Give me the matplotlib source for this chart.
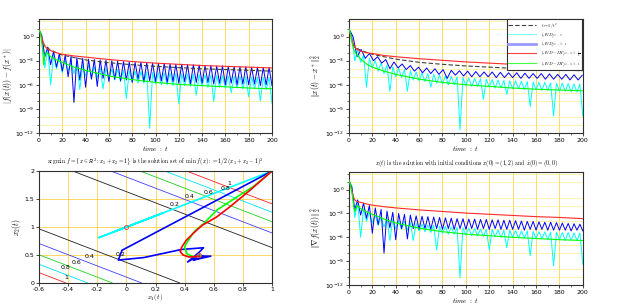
import numpy as np
import matplotlib
matplotlib.use('Agg')
import matplotlib.pyplot as plt
from matplotlib.ticker import FixedLocator, LogFormatterSciNotation, NullFormatter

plt.rcParams['mathtext.fontset'] = 'cm'
plt.rcParams['font.family'] = 'DejaVu Sans'

# ---- data (values are log10 for the time panels) ----
T_PEAK = np.arange(2.5, 200, 5)
T_TROUGH = np.arange(5, 201, 5)
T_PEAK_SLOW = np.arange(3.5, 200, 7)
T_TROUGH_SLOW = np.arange(7, 200, 7)

# top left : |f(x(t)) - f(x*)|
tl_blue_peaks = [0.0, -1.3, -1.8, -2.1, -2.3, -2.45, -2.6, -2.7, -2.8, -2.85,
                 -2.9, -2.95, -3.0, -3.05, -3.1, -3.15, -3.2, -3.2, -3.25, -3.3,
                 -3.35, -3.35, -3.4, -3.45, -3.45, -3.5, -3.5, -3.55, -3.6, -3.6,
                 -3.65, -3.65, -3.7, -3.7, -3.75, -3.75, -3.8, -3.8, -3.85, -3.85]
tl_blue_troughs = [-2.5, -3.5, -3.8, -4.3, -5.0, -8.2, -5.4, -6.3, -5.3, -6.2,
                   -5.2, -5.6, -5.3, -5.5, -5.4, -5.7, -5.3, -5.6, -5.5, -5.6,
                   -5.5, -5.7, -5.6, -5.8, -5.6, -5.9, -5.7, -5.8, -5.7, -5.9,
                   -5.8, -6.0, -5.8, -6.0, -5.9, -6.0, -5.9, -6.1, -6.0, -6.1]
tl_cyan_peaks = [0.3, -1.5, -2.2, -2.6, -2.9, -3.1, -3.3, -3.5, -3.6, -3.75,
                 -3.85, -3.95, -4.05, -4.1, -4.2, -4.25, -4.3, -4.35, -4.4, -4.45,
                 -4.5, -4.53, -4.56, -4.6, -4.63, -4.66, -4.7, -4.73, -4.76, -4.8,
                 -4.83, -4.86, -4.9, -4.93, -4.96, -5.0, -5.03, -5.06, -5.08, -5.1]
tl_cyan_troughs = [-3.9, -6.0, -4.0, -4.5, -4.3, -4.6, -6.6, -4.9, -5.0, -5.1,
                   -6.5, -5.3, -5.4, -5.6, -7.7, -5.6, -5.8, -5.8, -11.4, -5.9,
                   -6.0, -6.0, -6.1, -8.4, -6.1, -6.2, -7.3, -6.2, -6.3, -8.1,
                   -6.3, -6.4, -7.0, -6.4, -6.5, -7.5, -6.5, -8.0, -6.6, -8.3]
tl_red_t = [0, 1, 2, 3, 4, 5, 7, 10, 15, 20, 30, 40, 60, 80, 100, 120, 140, 160, 180, 200]
tl_red = [0.8, 0.6, 0.2, -0.4, -0.9, -1.2, -1.5, -1.75, -2.0, -2.2,
          -2.4, -2.55, -2.85, -3.1, -3.3, -3.45, -3.6, -3.7, -3.8, -3.9]
tl_green_t = [0, 1, 2, 3, 4, 5, 7, 10, 15, 20, 30, 40, 60, 80, 100, 120, 140, 160, 180, 200]
tl_green = [0.8, 0.5, -0.3, -1.5, -3.5, -2.2, -2.0, -2.5, -2.9, -3.2,
            -3.8, -4.2, -4.9, -5.35, -5.7, -5.95, -6.1, -6.25, -6.4, -6.5]
dash_t = [3, 5, 10, 20, 40, 60, 80, 100, 120, 140, 160, 180, 200]
tl_dash = [-0.7, -1.1, -1.7, -2.3, -2.9, -3.25, -3.5, -3.7, -3.86, -4.0, -4.1, -4.2, -4.3]

# top right : ||x(t) - x*||^2
tr_blue_peaks = [0.0, -1.6, -2.1, -2.5, -2.85, -3.15, -3.4, -3.6, -3.8, -3.9,
                 -4.0, -4.1, -4.2, -4.25, -4.3, -4.35, -4.4, -4.4, -4.45, -4.5,
                 -4.5, -4.55, -4.6, -4.6, -4.65, -4.7, -4.7, -4.75, -4.8]
tr_blue_troughs = [-2.5, -2.7, -3.0, -3.3, -4.0, -3.9, -4.1, -4.3, -4.5, -4.6,
                   -4.7, -5.2, -4.8, -4.9, -5.0, -5.0, -5.0, -5.1, -5.1, -5.1,
                   -5.2, -5.2, -5.2, -5.3, -5.3, -5.3, -5.4, -5.4]
tr_cyan_peaks = [0.3, -1.6, -2.3, -2.7, -3.0, -3.3, -3.55, -3.75, -3.95, -4.1,
                 -4.25, -4.4, -4.5, -4.6, -4.7, -4.8, -4.9, -4.95, -5.0, -5.1,
                 -5.15, -5.2, -5.25, -5.3, -5.35, -5.4, -5.45, -5.5, -5.5, -5.55,
                 -5.6, -5.65, -5.7, -5.7, -5.75, -5.8, -5.8, -5.85, -5.9, -5.9]
tr_cyan_troughs = [-3.0, -3.2, -6.3, -3.9, -4.3, -4.6, -6.8, -5.0, -5.1, -6.8,
                   -5.4, -5.5, -5.6, -6.3, -5.8, -5.9, -6.0, -6.0, -11.6, -6.1,
                   -6.2, -6.2, -7.8, -6.3, -6.4, -6.4, -7.2, -6.5, -6.5, -6.6,
                   -8.7, -6.6, -6.7, -6.7, -9.9, -6.8, -6.8, -6.9, -6.9, -9.9]
tr_red_t = [0, 1, 2, 3, 5, 7, 10, 15, 20, 30, 40, 60, 80, 100, 120, 140, 160, 180, 200]
tr_red = [0.8, 0.5, 0.0, -0.6, -1.3, -1.6, -1.8, -2.0, -2.1, -2.35,
          -2.5, -2.75, -2.95, -3.15, -3.3, -3.45, -3.6, -3.75, -3.9]
tr_green_t = [0, 1, 2, 3, 4, 5, 7, 10, 15, 20, 30, 40, 60, 80, 100, 120, 140, 160, 180, 200]
tr_green = [1.0, 0.5, -0.3, -1.0, -1.6, -1.9, -2.3, -2.8, -3.4, -3.8,
            -4.3, -4.7, -5.3, -5.7, -6.0, -6.2, -6.4, -6.55, -6.65, -6.75]
tr_dash = [-0.9, -1.3, -1.7, -2.2, -2.8, -3.2, -3.45, -3.65, -3.8, -3.95, -4.05, -4.15, -4.25]

# bottom right : ||grad f(x(t))||^2
br_blue_peaks = [0.3, -1.3, -1.7, -2.0, -2.3, -2.5, -2.7, -2.85, -3.0, -3.1,
                 -3.2, -3.3, -3.35, -3.4, -3.45, -3.5, -3.55, -3.6, -3.65, -3.65,
                 -3.7, -3.7, -3.75, -3.75, -3.8, -3.8, -3.85, -3.85, -3.9, -3.95,
                 -4.0, -4.0, -4.05, -4.1, -4.1, -4.15, -4.2, -4.25, -4.3, -4.35]
br_blue_troughs = [-2.5, -3.2, -3.6, -5.5, -4.4, -8.0, -4.8, -6.3, -4.9, -6.2,
                   -4.9, -5.0, -4.9, -5.0, -4.9, -5.0, -4.9, -5.0, -4.9, -5.0,
                   -4.9, -5.0, -4.9, -5.0, -4.9, -5.0, -5.0, -5.0, -5.0, -5.1,
                   -5.0, -5.1, -5.0, -5.1, -5.1, -5.1, -5.1, -5.2, -5.1, -5.2]
br_cyan_peaks = [0.5, -1.6, -2.4, -2.9, -3.2, -3.4, -3.6, -3.75, -3.9, -4.0,
                 -4.15, -4.25, -4.35, -4.45, -4.5, -4.6, -4.65, -4.7, -4.75, -4.8,
                 -4.85, -4.9, -4.95, -5.0, -5.0, -5.05, -5.1, -5.1, -5.15, -5.2,
                 -5.2, -5.25, -5.3, -5.3, -5.35, -5.35, -5.4, -5.4, -5.45, -5.45]
br_cyan_troughs = [-3.5, -6.0, -4.0, -4.2, -4.5, -4.7, -6.4, -4.9, -5.0, -5.1,
                   -6.4, -5.2, -5.3, -5.4, -7.6, -5.5, -5.6, -5.6, -11.1, -5.7,
                   -5.8, -5.8, -5.9, -7.6, -5.9, -6.0, -7.3, -6.0, -6.1, -6.1,
                   -8.3, -6.2, -6.2, -6.3, -9.6, -6.3, -6.4, -6.4, -6.4, -9.4]
br_red_t = [0, 1, 2, 3, 4, 5, 7, 10, 15, 20, 30, 40, 60, 80, 100, 120, 140, 160, 180, 200]
br_red = [1.2, 0.8, 0.2, -0.5, -1.0, -1.3, -1.5, -1.6, -1.8, -1.95,
          -2.15, -2.3, -2.55, -2.75, -2.95, -3.1, -3.25, -3.4, -3.5, -3.65]
br_green_t = [0, 1, 2, 3, 4, 5, 7, 10, 15, 20, 30, 40, 60, 80, 100, 120, 140, 160, 180, 200]
br_green = [1.2, 0.7, 0.0, -0.8, -2.0, -2.8, -2.0, -2.4, -2.8, -3.1,
            -3.7, -4.2, -4.85, -5.3, -5.6, -5.8, -6.0, -6.15, -6.3, -6.4]

# bottom left : trajectories in the plane
levels = [0.2, 0.4, 0.6, 0.8, 1.0]
level_colors = ['#202020', '#4040ff', '#20d020', '#00e0ff', '#ff2020']
cyan_x1 = [1.0, -0.19, 0.25, -0.06, 0.02, 0.0]
cyan_x2 = [2.0, 0.81, 1.25, 0.94, 1.02, 1.0]
blue_x1 = [1.0, -0.03, -0.055, 0.12, 0.38, 0.53, 0.50, 0.42, 0.49, 0.58, 0.46, 0.53, 0.50]
blue_x2 = [2.0, 0.585, 0.41, 0.455, 0.60, 0.63, 0.55, 0.375, 0.48, 0.48, 0.41, 0.47, 0.50]
red_x1 = [1.0, 0.85, 0.71, 0.62, 0.52, 0.46, 0.41, 0.38, 0.37, 0.39, 0.43, 0.47, 0.50]
red_x2 = [2.0, 1.66, 1.36, 1.18, 1.03, 0.89, 0.76, 0.64, 0.56, 0.50, 0.465, 0.47, 0.48]
green_x1 = [1.0, 0.87, 0.76, 0.62, 0.53, 0.47, 0.44, 0.41, 0.40, 0.415, 0.46, 0.51, 0.50]
green_x2 = [2.0, 1.72, 1.54, 1.30, 1.06, 0.93, 0.82, 0.70, 0.645, 0.525, 0.466, 0.49, 0.49]
limit_x1 = [0.0, 0.5]
limit_x2 = [1.0, 0.5]


def zigzag(start, peaks, troughs, t_peak, t_trough):
    t = np.concatenate([[0.0], t_peak, t_trough])
    v = np.concatenate([[start], peaks, troughs])
    order = np.argsort(t)
    return t[order], 10.0 ** v[order]


LEG = [r'$t\mapsto 1/t^2$', r'$(AVD)_{\alpha=3}$', r'$(AVD)_{\alpha=\beta=1}$',
       r'$(AVD-IH)_{\alpha=3,\beta=\frac{1}{2}}$', r'$(AVD-IH)_{\alpha=3,\beta=1}$']

fig = plt.figure(figsize=(6.22, 3.05), dpi=100)


def style_time_axis(ax, ylabel):
    ax.set_xlim(0, 200)
    ax.set_ylim(1e-12, 10 ** 2.2)
    ax.set_yscale('log')
    ax.xaxis.set_major_locator(FixedLocator(range(0, 201, 20)))
    ax.xaxis.set_minor_locator(FixedLocator(range(0, 201, 10)))
    ax.yaxis.set_major_locator(FixedLocator([1e-12, 1e-9, 1e-6, 1e-3, 1e0]))
    ax.yaxis.set_major_formatter(LogFormatterSciNotation())
    ax.yaxis.set_minor_locator(FixedLocator([10.0 ** k for k in range(-12, 3)]))
    ax.yaxis.set_minor_formatter(NullFormatter())
    ax.grid(True, which='major', axis='x', color='#ffd24a', lw=0.6)
    ax.grid(True, which='minor', axis='y', color='#fff09a', lw=0.6)
    ax.set_axisbelow(True)
    ax.tick_params(labelsize=4.5, length=2, width=0.5, pad=1.5)
    ax.tick_params(which='minor', length=1.2, width=0.4)
    for s in ax.spines.values():
        s.set_linewidth(0.8)
        s.set_color('#303030')
    ax.set_xlabel(r'$time\ :\ t$', fontsize=5, labelpad=1)
    ax.set_ylabel(ylabel, fontsize=5.5, labelpad=1)


def draw_time_panel(ax, cyan, blue, red, green, dash, ylabel):
    if dash is not None:
        ax.plot(dash_t, 10.0 ** np.array(dash), color='#404040', lw=0.8, dashes=(4, 2), zorder=4)
    ax.plot(*cyan, color='#00ffff', lw=0.7, zorder=2)
    ax.plot(*blue, color='#0000ff', lw=0.7, zorder=3)
    ax.plot(red[0], 10.0 ** np.array(red[1]), color='#ff2a2a', lw=0.8, zorder=5)
    ax.plot(green[0], 10.0 ** np.array(green[1]), color='#00ff00', lw=0.8, zorder=5)
    style_time_axis(ax, ylabel)


ax_tl = fig.add_axes([0.0627, 0.564, 0.3746, 0.3738])
draw_time_panel(ax_tl,
                zigzag(0.9, tl_cyan_peaks, tl_cyan_troughs, T_PEAK, T_TROUGH),
                zigzag(0.7, tl_blue_peaks, tl_blue_troughs, T_PEAK, T_TROUGH),
                (tl_red_t, tl_red), (tl_green_t, tl_green), tl_dash,
                r'$|f(x(t))-f(x^*)|$')

ax_tr = fig.add_axes([0.561, 0.564, 0.376, 0.3738])
draw_time_panel(ax_tr,
                zigzag(1.0, tr_cyan_peaks, tr_cyan_troughs, T_PEAK, T_TROUGH),
                zigzag(0.9, tr_blue_peaks, tr_blue_troughs, T_PEAK_SLOW, T_TROUGH_SLOW),
                (tr_red_t, tr_red), (tr_green_t, tr_green), tr_dash,
                r'$\|x(t)-x^*\|_2^2$')
h = [plt.Line2D([], [], color='#404040', lw=0.8, dashes=(4, 2)),
     plt.Line2D([], [], color='#80ffff', lw=0.8),
     plt.Line2D([], [], color='#9999ff', lw=2.0),
     plt.Line2D([], [], color='#ff4040', lw=0.8),
     plt.Line2D([], [], color='#40ff40', lw=0.8)]
leg = ax_tr.legend(h, LEG, loc='upper right', fontsize=3.1, frameon=True, fancybox=False,
                   borderpad=0.3, labelspacing=0.1, handlelength=6.5, handletextpad=1.2,
                   borderaxespad=0.1, framealpha=1)
leg.get_frame().set_edgecolor('#303030')
leg.get_frame().set_linewidth(0.8)

ax_br = fig.add_axes([0.561, 0.0656, 0.376, 0.370])
draw_time_panel(ax_br,
                zigzag(1.2, br_cyan_peaks, br_cyan_troughs, T_PEAK, T_TROUGH),
                zigzag(1.0, br_blue_peaks, br_blue_troughs, T_PEAK, T_TROUGH),
                (br_red_t, br_red), (br_green_t, br_green), None,
                r'$\|\nabla f(x(t))\|_2^2$')
ax_br.set_title(r'$x(t)$ is the solution with initial conditions $x(0)=(1,2)$ and '
                r'$\dot{x}(0)=(0,0)$', fontsize=4.2, family='cmr10', pad=5)

# contour panel
ax_bl = fig.add_axes([0.0627, 0.0721, 0.3746, 0.367])
g1, g2 = np.meshgrid(np.linspace(-0.6, 1, 200), np.linspace(0, 2, 200))
F = 0.5 * (g1 + g2 - 1) ** 2
ax_bl.contour(g1, g2, F, levels=levels, colors=level_colors, linewidths=0.6)
ax_bl.plot(cyan_x1, cyan_x2, color='#00ffff', lw=1.2)
ax_bl.plot(blue_x1, blue_x2, color='#0000ff', lw=1.2)
ax_bl.plot(green_x1, green_x2, color='#00ff00', lw=1.2)
ax_bl.plot(red_x1, red_x2, color='#ff0000', lw=1.2)
ax_bl.plot(limit_x1, limit_x2, 'o', mfc='none', mec='#ff4040', ms=3, mew=0.6)
lab_up = [(0.33, 1.41), (0.434, 1.54), (0.565, 1.62), (0.68, 1.69), (0.704, 1.78)]
lab_lo = [(-0.043, 0.513), (-0.254, 0.466), (-0.34, 0.36), (-0.416, 0.27), (-0.414, 0.096)]
for lev, (xu, yu), (xl, yl) in zip(levels, lab_up, lab_lo):
    txt = '%g' % lev
    ax_bl.text(xu, yu, txt, fontsize=4.5, ha='center', va='center')
    ax_bl.text(xl, yl, txt, fontsize=4.5, ha='center', va='center')
ax_bl.set_xlim(-0.6, 1)
ax_bl.set_ylim(0, 2)
ax_bl.set_xticks(np.round(np.arange(-0.6, 1.01, 0.2), 1))
ax_bl.set_xticklabels(['%g' % v for v in np.round(np.arange(-0.6, 1.01, 0.2), 1)])
ax_bl.set_yticks([0, 0.5, 1, 1.5, 2])
ax_bl.set_yticklabels(['0', '0.5', '1', '1.5', '2'])
ax_bl.grid(True, color='#ffd24a', lw=0.6)
ax_bl.set_axisbelow(True)
ax_bl.tick_params(labelsize=4.5, length=2, width=0.5, pad=1.2)
for s in ax_bl.spines.values():
    s.set_linewidth(0.8)
    s.set_color('#303030')
ax_bl.set_xlabel(r'$x_1(t)$', fontsize=5, labelpad=0)
ax_bl.set_ylabel(r'$x_2(t)$', fontsize=5.5, labelpad=1)
ax_bl.set_title(r'$\mathrm{argmin}\ f=\{x\in\mathbb{R}^2:x_1+x_2=1\}$ is the solution set of '
                r'$\min\ f(x):=1/2\,(x_1+x_2-1)^2$', fontsize=4.2, family='cmr10', pad=5)

fig.savefig('out.png', dpi=100)
